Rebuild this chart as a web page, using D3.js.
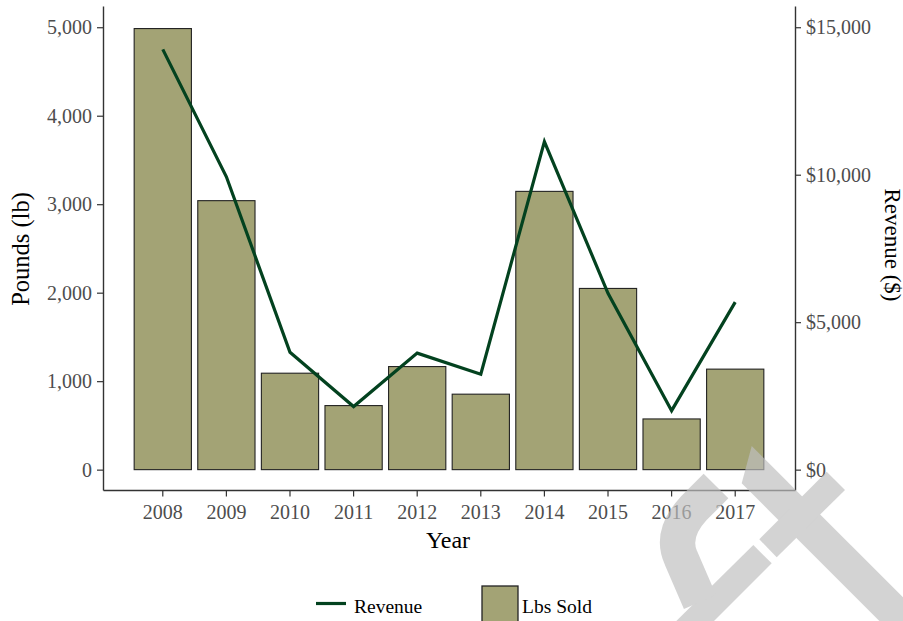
<!DOCTYPE html>
<html>
<head>
<meta charset="utf-8">
<script src="https://cdn.jsdelivr.net/npm/d3@7"></script>
<style>
  html, body { margin: 0; padding: 0; background: #fff; }
  svg { display: block; font-family: "Liberation Serif", "Times New Roman", serif; }
</style>
</head>
<body>
<svg id="chart" width="903" height="621"></svg>
<script>
// Yearly pounds sold (bars, left axis) and revenue (line, right axis)
const years = ["2008", "2009", "2010", "2011", "2012", "2013", "2014", "2015", "2016", "2017"];
const poundsSold = [4985, 3040, 1090, 724, 1165, 853, 3145, 2048, 573, 1136];
const revenue = [14250, 9930, 3980, 2140, 3950, 3235, 11120, 5980, 2000, 5680];
const poundTicks = [0, 1000, 2000, 3000, 4000, 5000];
const revenueTicks = [0, 5000, 10000, 15000];

const barFill = "#a3a375";
const lineColor = "#03421f";
const axisColor = "#333333";
const tickTextColor = "#4d4d4d";

const svg = d3.select("#chart");

const panel = { left: 103, right: 795, top: 6, bottom: 490 };

const x = d3.scaleBand()
  .domain(years)
  .range([panel.left, panel.right])
  .paddingInner(0.1)
  .paddingOuter(0.49);

// Panel scales include a small expansion below zero and above the top tick
const yL = d3.scaleLinear().domain([-230, 5240]).range([panel.bottom, panel.top]);
const yR = d3.scaleLinear().domain([-690, 15720]).range([panel.bottom, panel.top]);

const rows = years.map((y, i) => ({ year: y, lbs: poundsSold[i], rev: revenue[i] }));

// Bars
svg.append("g")
  .selectAll("rect")
  .data(rows)
  .join("rect")
  .attr("x", d => x(d.year))
  .attr("width", x.bandwidth())
  .attr("y", d => yL(d.lbs))
  .attr("height", d => yL(0) - yL(d.lbs))
  .attr("fill", barFill)
  .attr("stroke", "#222")
  .attr("stroke-width", 1.1);

// Revenue line
const line = d3.line()
  .x(d => x(d.year) + x.bandwidth() / 2)
  .y(d => yR(d.rev));

svg.append("path")
  .datum(rows)
  .attr("d", line)
  .attr("fill", "none")
  .attr("stroke", lineColor)
  .attr("stroke-width", 3.2)
  .attr("stroke-linejoin", "miter");

// Axes
function styleAxis(g) {
  g.selectAll(".domain").attr("stroke", axisColor).attr("stroke-width", 1.4);
  g.selectAll(".tick line").attr("stroke", axisColor).attr("stroke-width", 1.2);
  g.selectAll(".tick text")
    .attr("fill", tickTextColor)
    .style("font-family", '"Liberation Serif", "Times New Roman", serif')
    .style("font-size", "20px");
}

const fmtLbs = d3.format(",");
const fmtRev = d => "$" + d3.format(",")(d);

svg.append("g")
  .attr("transform", `translate(${panel.left},0)`)
  .call(d3.axisLeft(yL).tickValues(poundTicks).tickFormat(fmtLbs).tickSize(6).tickSizeOuter(0).tickPadding(5))
  .call(styleAxis);

svg.append("g")
  .attr("transform", `translate(${panel.right},0)`)
  .call(d3.axisRight(yR).tickValues(revenueTicks).tickFormat(fmtRev).tickSize(6).tickSizeOuter(0).tickPadding(5))
  .call(styleAxis);

svg.append("g")
  .attr("transform", `translate(0,${panel.bottom})`)
  .call(d3.axisBottom(x).tickSize(6.5).tickSizeOuter(0).tickPadding(8))
  .call(styleAxis);

// Axis titles
svg.append("text")
  .attr("x", (panel.left + panel.right) / 2 - 1)
  .attr("y", 548)
  .attr("text-anchor", "middle")
  .style("font-size", "24px")
  .attr("fill", "#000")
  .text("Year");

svg.append("text")
  .attr("transform", "translate(28.5,249) rotate(-90)")
  .attr("text-anchor", "middle")
  .style("font-size", "24.5px")
  .attr("fill", "#000")
  .text("Pounds (lb)");

svg.append("text")
  .attr("transform", "translate(884.5,245) rotate(90)")
  .attr("text-anchor", "middle")
  .style("font-size", "23px")
  .attr("fill", "#000")
  .text("Revenue ($)");

// Legend
const legend = svg.append("g");
legend.append("line")
  .attr("x1", 316).attr("x2", 346)
  .attr("y1", 603.5).attr("y2", 603.5)
  .attr("stroke", lineColor)
  .attr("stroke-width", 3.2);
legend.append("text")
  .attr("x", 354).attr("y", 613)
  .style("font-size", "19.5px")
  .attr("fill", "#000")
  .text("Revenue");
legend.append("rect")
  .attr("x", 482).attr("y", 586)
  .attr("width", 36).attr("height", 36)
  .attr("fill", barFill)
  .attr("stroke", "#222")
  .attr("stroke-width", 1.3);
legend.append("text")
  .attr("x", 522).attr("y", 613)
  .style("font-size", "19.5px")
  .attr("fill", "#000")
  .text("Lbs Sold");

// Faint logo mark in the lower-right corner
const mark = svg.append("g").attr("opacity", 0.68).attr("fill", "#bfbfbf").attr("stroke", "none");
mark.append("polygon")
  .attr("points", "751.7,446 741.7,483.3 950,691.6 950,644.3");
mark.append("polygon")
  .attr("points", "826.7,471.7 845,490 776.7,557.3 759.3,539.3");
mark.append("polygon")
  .attr("points", "753.3,545 771.7,563.3 690,645 652,645");
mark.append("path")
  .attr("d", "M716,486 L694,508 Q670,534 681,558 L700,602")
  .attr("fill", "none")
  .attr("stroke", "#bfbfbf")
  .attr("stroke-width", 35)
  .attr("stroke-linejoin", "round");
</script>
</body>
</html>
